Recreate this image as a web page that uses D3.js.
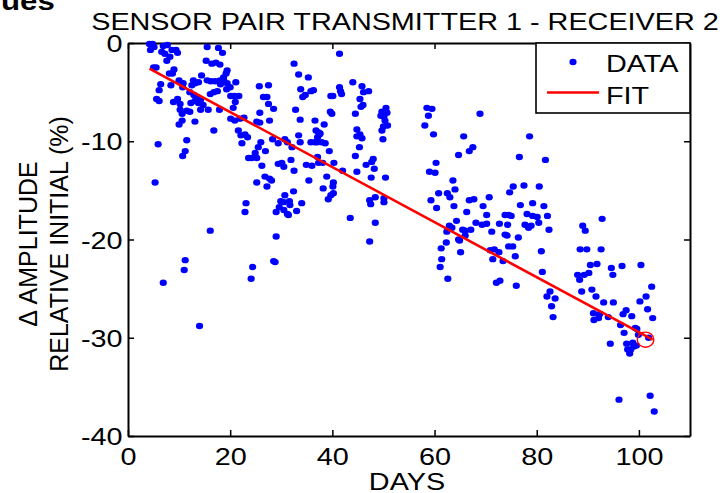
<!DOCTYPE html>
<html>
<head>
<meta charset="utf-8">
<script src="https://cdn.jsdelivr.net/npm/d3@7"></script>
<style>
  body { margin: 0; background: #fff; }
  svg { display: block; }
  text { font-family: "Liberation Sans", Arial, Helvetica, sans-serif; fill: #000; }
</style>
</head>
<body>
<svg id="chart" width="724" height="493"></svg>
<script>
// Measurement days and amplitude change relative to the initial reading (%)
const days = [
  4.2,4.8,5.1,4.4,6.9,7.7,6.6,7.2,8.2,8.6,9.4,9.7,7.6,5.0,5.5,6.4,6.1,5.6,6.1,8.1,
  8.7,9.0,8.4,10.0,10.8,10.7,8.9,9.7,10.2,10.2,10.6,11.5,12.1,10.6,10.0,11.5,11.2,10.7,5.9,5.3,
  12.8,12.5,13.1,13.8,12.1,12.9,13.6,14.2,13.1,13.8,12.3,14.4,15.5,14.7,14.2,15.7,13.1,15.5,17.7,18.5,
  15.3,16.4,17.2,18.0,16.2,17.0,18.0,18.7,19.2,19.4,16.1,16.8,17.5,18.1,18.8,19.4,20.0,19.3,17.9,16.8,
  20.1,20.8,21.0,21.7,20.6,21.1,20.1,20.9,21.9,22.7,21.6,22.1,22.9,23.4,22.3,23.6,24.2,24.9,25.2,25.5,
  26.0,26.9,26.2,25.2,26.8,27.7,28.1,27.2,23.1,22.9,25.7,27.5,26.5,27.2,27.5,28.5,25.8,25.2,25.8,27.7,
  28.3,29.4,30.7,31.2,32.1,33.4,33.7,29.4,30.1,30.5,31.9,32.5,34.9,36.0,35.4,32.5,33.4,33.8,34.2,34.7,
  35.3,35.8,36.3,32.8,33.7,36.6,36.8,37.5,35.8,36.6,30.7,32.4,29.9,30.5,31.6,31.7,29.6,30.5,31.2,29.0,
  33.0,34.0,37.1,37.3,16.1,
  11.2,11.0,6.9,14.0,29.0,28.5,28.8,24.4,24.1,31.4,
  41.4,44.0,45.8,41.4,41.6,41.8,39.7,40.1,46.1,47.1,45.4,45.6,46.0,39.6,39.9,44.5,49.7,50.5,49.5,50.1,
  50.7,50.3,50.8,50.0,49.7,49.9,38.4,37.3,37.6,37.1,37.0,37.9,38.6,39.4,44.8,44.8,45.4,45.8,45.3,44.5,
  38.1,40.3,42.0,44.8,46.6,47.7,48.0,48.2,38.9,40.2,40.1,38.2,40.2,39.7,39.2,47.6,50.4,47.3,47.5,48.4,
  50.1,50.1,43.5,48.4,47.3,58.5,59.5,58.8,58.1,59.8,68.9,65.7,67.5,66.8,64.7,60.3,59.0,60.1,63.6,64.0,
  60.8,62.5,63.0,59.3,60.4,63.8,66.8,67.7,70.7,69.5,66.3,70.2,64.3,62.9,63.4,62.4,65.5,66.0,67.1,68.1,
  69.3,70.2,71.2,72.7,73.8,74.3,74.7,74.5,73.8,66.0,64.7,
  61.1,61.4,61.3,62.3,62.6,64.9,65.1,70.9,71.7,72.6,71.4,73.4,72.1,72.8,74.2,74.5,
  78.6,76.6,81.7,75.4,77.5,80.5,76.8,79.2,81.4,75.0,78.1,79.2,80.1,82.1,77.7,78.4,78.9,80.4,82.4,76.4,
  89.0,89.5,92.8,
  75.3,75.8,76.0,80.9,81.1,82.0,82.6,83.6,82.9,83.2,88.5,89.8,92.6,90.5,91.8,88.0,88.4,89.3,90.2,88.8,
  90.8,91.6,93.1,94.6,94.9,96.7,100.4,95.0,91.1,92.3,91.2,92.1,94.0,96.9,97.5,96.4,98.6,97.1,99.3,99.6,
  100.2,101.4,102.5,101.7,102.7,99.9,101.9,94.4,97.6,98.8,99.5,99.0,97.8,98.4,98.2,96.1,102.2,103.0
];
const amplitude = [
  -0.1,-0.1,-0.4,-0.7,-0.3,-0.2,-0.9,-1.1,-1.4,-0.7,-0.7,-1.0,-1.8,-2.5,-2.5,-4.2,-4.8,-5.7,-5.9,-3.1,
  -3.1,-2.7,-4.3,-3.8,-4.1,-4.5,-6.0,-5.7,-6.2,-6.8,-7.2,-6.9,-7.0,-7.9,-8.3,-9.9,-11.0,-11.5,-10.3,-14.2,
  -3.8,-4.3,-4.1,-4.0,-5.0,-5.3,-5.5,-5.8,-5.9,-6.1,-6.1,-3.3,-3.8,-6.3,-6.8,-6.8,-8.0,-0.4,-0.5,-1.0,
  -1.8,-2.1,-2.0,-2.2,-3.9,-3.9,-3.8,-3.5,-3.1,-2.8,-5.2,-5.0,-4.9,-4.2,-3.9,-4.1,-4.5,-4.7,-6.8,-8.9,
  -5.4,-5.4,-6.0,-5.4,-6.6,-4.0,-7.7,-7.9,-7.7,-7.6,-8.9,-9.4,-9.3,-9.6,-10.2,-11.7,-11.7,-11.2,-11.7,-10.6,
  -10.1,-11.0,-12.5,-14.2,-13.6,-13.8,-14.0,-14.6,-16.3,-17.2,-4.4,-4.3,-5.5,-5.5,-6.2,-6.7,-7.1,-8.0,-8.1,-7.9,
  -9.8,-10.2,-9.8,-10.1,-10.6,-9.4,-10.1,-12.3,-12.2,-12.6,-11.9,-13.0,-12.4,-12.5,-14.0,-2.1,-3.2,-4.7,-5.5,-5.3,
  -3.5,-4.9,-4.8,-6.8,-7.8,-7.9,-8.9,-9.3,-10.1,-10.1,-15.5,-15.1,-16.1,-16.2,-16.1,-16.5,-16.7,-17.0,-17.4,-17.2,
  -17.1,-16.3,-11.6,-12.2,-19.1,
  -22.1,-23.1,-24.4,-28.8,-19.7,-22.2,-22.3,-22.8,-24.0,-17.5,
  -1.1,-4.0,-4.4,-4.5,-4.9,-5.2,-5.4,-5.4,-5.0,-4.9,-5.7,-6.5,-6.3,-7.0,-7.2,-7.2,-7.0,-6.6,-7.4,-7.5,
  -7.1,-7.9,-8.4,-8.5,-8.9,-9.8,-8.3,-9.1,-9.2,-9.6,-10.1,-10.1,-10.2,-11.0,-8.8,-9.5,-9.3,-9.7,-10.6,-11.5,
  -12.2,-12.2,-13.0,-13.1,-12.4,-12.1,-11.8,-12.8,-13.6,-14.2,-14.6,-14.8,-15.3,-15.5,-15.9,-13.7,-13.7,-16.0,-16.4,-15.7,
  -15.8,-16.2,-17.8,-18.3,-20.2,-6.6,-6.7,-7.4,-8.4,-9.3,-7.2,-9.5,-10.6,-11.0,-11.4,-12.2,-13.1,-13.2,-14.0,-14.9,
  -15.3,-15.3,-15.7,-16.0,-16.8,-16.6,-16.0,-15.9,-15.7,-16.6,-17.2,-17.5,-18.1,-18.6,-18.8,-19.2,-19.0,-19.1,-19.0,-18.3,
  -18.5,-18.4,-19.2,-18.4,-17.5,-18.5,-15.2,-17.5,-19.5,-19.6,-20.0,
  -22.8,-22.0,-20.9,-20.3,-24.0,-20.1,-21.3,-21.1,-21.0,-21.3,-22.0,-22.2,-24.4,-24.2,-19.6,-20.7,
  -9.5,-11.6,-11.9,-14.6,-14.5,-14.6,-16.5,-16.3,-16.6,-17.6,-17.4,-17.6,-17.7,-17.6,-18.5,-18.8,-18.6,-18.3,-19.0,-19.8,
  -18.6,-19.1,-17.9,
  -20.7,-21.7,-24.7,-21.2,-23.3,-25.8,-25.3,-26.0,-26.8,-27.9,-21.0,-21.0,-21.0,-22.6,-22.5,-23.6,-24.1,-23.6,-23.4,-25.3,
  -25.1,-25.8,-26.4,-22.9,-23.6,-22.7,-22.6,-26.4,-27.5,-27.6,-28.2,-28.0,-27.9,-27.6,-27.2,-28.7,-27.8,-29.5,-29.0,-29.1,
  -26.3,-25.8,-24.8,-27.1,-28.0,-29.7,-30.0,-30.6,-30.6,-30.5,-30.8,-30.9,-31.2,-31.2,-31.6,-36.3,-35.9,-37.5
];

// Linear fit: end points, plus the marked final point of the fit
const fitDays = [4.2, 102.7];
const fitValues = [-2.6, -30.2];
const fitMarkDay = [101.3];
const fitMarkValue = [-30.2];

const xTicks = [0, 20, 40, 60, 80, 100];
const yTicks = [0, -10, -20, -30, -40];
const titleText = "SENSOR PAIR TRANSMITTER 1 - RECEIVER 2";
const xLabel = "DAYS";
const yLabelLines = ["\u0394 AMPLITUDE", "RELATIVE INITIAL (%)"];
const legendLabels = ["DATA", "FIT"];

const svg = d3.select("#chart");
const W = 724, H = 493;
const plot = { left: 128, right: 690, top: 43, bottom: 436 };
const SX = 1.2;          // horizontal text stretch
const FS = 24;           // base font size

svg.append("rect").attr("width", W).attr("height", H).attr("fill", "#fff");

const x = d3.scaleLinear().domain([0, 110]).range([plot.left, plot.right]);
const y = d3.scaleLinear().domain([-40, 0]).range([plot.bottom, plot.top]);

// Leftover heading text at the very top edge
svg.append("text")
  .attr("transform", `translate(1,10) scale(${SX},1)`)
  .attr("font-size", 26).attr("font-weight", "bold")
  .text("ues");

// Title
svg.append("text")
  .attr("transform", `translate(405,30) scale(${SX},1)`)
  .attr("text-anchor", "middle").attr("font-size", FS)
  .text(titleText);

// Axes: ticks point inward on all four sides
function styleAxis(g) {
  g.select(".domain").attr("stroke", "#000").attr("stroke-width", 2);
  g.selectAll(".tick line").attr("stroke", "#000").attr("stroke-width", 1.5);
}

const gx = svg.append("g").attr("transform", `translate(0,${plot.bottom})`)
  .call(d3.axisBottom(x).tickValues(xTicks).tickSizeInner(-6).tickSizeOuter(0)
    .tickPadding(12).tickFormat(d => String(d)));
gx.call(styleAxis);
gx.selectAll(".tick text")
  .attr("font-size", FS).attr("font-family", null).attr("fill", "#000")
  .attr("transform", `scale(${SX},1)`);

const gy = svg.append("g").attr("transform", `translate(${plot.left},0)`)
  .call(d3.axisLeft(y).tickValues(yTicks).tickSizeInner(-6).tickSizeOuter(0)
    .tickPadding(4.5).tickFormat(d => String(d)));
gy.call(styleAxis);
gy.selectAll(".tick text")
  .attr("font-size", FS).attr("font-family", null).attr("fill", "#000")
  .attr("dy", "0.36em")
  .attr("transform", `scale(${SX},1)`);

const gt = svg.append("g").attr("transform", `translate(0,${plot.top})`)
  .call(d3.axisTop(x).tickValues(xTicks).tickSizeInner(-6).tickSizeOuter(0).tickFormat(""));
gt.call(styleAxis);

const gr = svg.append("g").attr("transform", `translate(${plot.right},0)`)
  .call(d3.axisRight(y).tickValues(yTicks).tickSizeInner(-6).tickSizeOuter(0).tickFormat(""));
gr.call(styleAxis);

// Axis labels
svg.append("text")
  .attr("transform", `translate(${(plot.left + plot.right) / 2 - 2},489.5) scale(${SX},1)`)
  .attr("text-anchor", "middle").attr("font-size", FS)
  .text(xLabel);

const yLabelX = [37, 68];
yLabelLines.forEach((line, i) => {
  svg.append("text")
    .attr("transform", `translate(${yLabelX[i]},244) scale(1.05,1) rotate(-90)`)
    .attr("text-anchor", "middle").attr("font-size", 25)
    .text(line);
});

// Data points
svg.append("g").selectAll("ellipse")
  .data(days.map((d, i) => [d, amplitude[i]]))
  .join("ellipse")
  .attr("cx", d => x(d[0])).attr("cy", d => y(d[1]))
  .attr("rx", 3.6).attr("ry", 3.2)
  .attr("fill", "#0000ff");

// Fit line and its end marker
svg.append("path")
  .datum(fitDays.map((d, i) => [d, fitValues[i]]))
  .attr("d", d3.line().x(d => x(d[0])).y(d => y(d[1])))
  .attr("fill", "none").attr("stroke", "#ff0000").attr("stroke-width", 2.6);

svg.append("g").selectAll("ellipse")
  .data(fitMarkDay.map((d, i) => [d, fitMarkValue[i]]))
  .join("ellipse")
  .attr("cx", d => x(d[0])).attr("cy", d => y(d[1]))
  .attr("rx", 8.3).attr("ry", 7.6)
  .attr("fill", "none").attr("stroke", "#ff0000").attr("stroke-width", 1.4);

// Legend
const lg = svg.append("g");
lg.append("rect")
  .attr("x", 536).attr("y", plot.top).attr("width", plot.right - 536).attr("height", 70)
  .attr("fill", "#fff").attr("stroke", "#000").attr("stroke-width", 1.6);
lg.append("ellipse").attr("cx", 573).attr("cy", 62).attr("rx", 3.6).attr("ry", 3.2).attr("fill", "#0000ff");
lg.append("line").attr("x1", 547).attr("x2", 599).attr("y1", 92.5).attr("y2", 92.5)
  .attr("stroke", "#ff0000").attr("stroke-width", 2.6);
const legendBase = [71.5, 104];
legendLabels.forEach((t, i) => {
  lg.append("text")
    .attr("transform", `translate(606,${legendBase[i]}) scale(${SX},1)`)
    .attr("font-size", FS)
    .text(t);
});
</script>
</body>
</html>
